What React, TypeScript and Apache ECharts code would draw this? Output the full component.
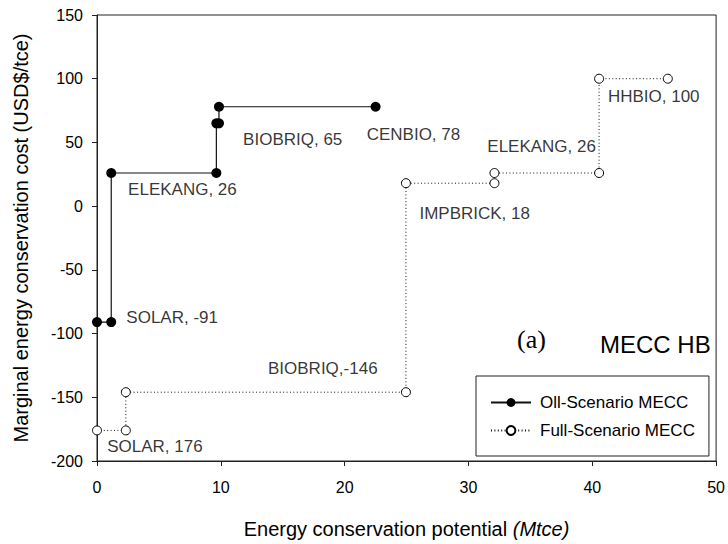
import React, { useEffect, useRef } from "react";
import * as echarts from "echarts";

// ---- data ----
const seriesNames = ["Oll-Scenario MECC", "Full-Scenario MECC"];

// Oll-Scenario MECC step curve (cumulative potential, cost)
const ollX = [0, 1.15, 1.15, 9.64, 9.64, 9.85, 9.85, 22.5];
const ollY = [-91, -91, 26, 26, 65, 65, 78, 78];

// Full-Scenario MECC step curve
const fullX = [0, 2.33, 2.33, 24.95, 24.95, 32.1, 32.1, 40.55, 40.55, 46.1];
const fullY = [-176, -176, -146, -146, 18, 18, 26, 26, 100, 100];

// Annotation texts and their anchor (data units)
const noteTexts = [
  "ELEKANG, 26",
  "BIOBRIQ, 65",
  "CENBIO, 78",
  "ELEKANG, 26",
  "HHBIO, 100",
  "IMPBRICK, 18",
  "SOLAR, -91",
  "BIOBRIQ,-146",
  "SOLAR, 176",
];
const noteX = [2.47, 11.76, 21.74, 31.48, 41.22, 26.0, 2.33, 13.77, 0.78];
const noteY = [12.8, 52.6, 56.5, 47.1, 86.1, -5.9, -87, -127.5, -189];

const xMin = 0, xMax = 50, xStep = 10;
const yMin = -200, yMax = 150, yStep = 50;

const panelTag = "(a)";
const panelTitle = "MECC HB";
const xTitle = "Energy conservation potential ";
const xTitleItalic = "(Mtce)";
const yTitle = "Marginal energy conservation cost (USD$/tce)";

const FONT = "'Liberation Sans', Arial, sans-serif";

export default function App() {
  const ref = useRef<HTMLDivElement>(null);
  useEffect(() => {
    if (!ref.current) return;
    const chart = echarts.init(ref.current, null, { renderer: "svg" });
    const pair = (xs: number[], ys: number[]) => xs.map((x, i) => [x, ys[i]]);
    chart.setOption({
      animation: false,
      backgroundColor: "#fff",
      textStyle: { fontFamily: FONT },
      grid: {
        left: 97,
        right: 10,
        top: 15,
        bottom: 80,
        show: true,
        borderColor: "#222",
        borderWidth: 1,
        backgroundColor: "transparent",
      },
      xAxis: {
        type: "value",
        min: xMin,
        max: xMax,
        interval: xStep,
        name: xTitle + "{i|" + xTitleItalic + "}",
        nameLocation: "middle",
        nameGap: 58,
        nameTextStyle: {
          fontSize: 20,
          color: "#000",
          fontFamily: FONT,
          rich: { i: { fontStyle: "italic", fontSize: 20, color: "#000", fontFamily: FONT } },
        },
        axisLine: { show: true, onZero: false, lineStyle: { color: "#222", width: 1 } },
        axisTick: { show: true, inside: false, length: 5, lineStyle: { color: "#222" } },
        axisLabel: { fontSize: 16, color: "#000", margin: 18, fontFamily: FONT },
        splitLine: { show: false },
      },
      yAxis: {
        type: "value",
        min: yMin,
        max: yMax,
        interval: yStep,
        name: yTitle,
        nameLocation: "middle",
        nameGap: 66,
        nameTextStyle: { fontSize: 20, color: "#000", fontFamily: FONT },
        axisLine: { show: true, onZero: false, lineStyle: { color: "#222", width: 1 } },
        axisTick: { show: true, inside: false, length: 5, lineStyle: { color: "#222" } },
        axisLabel: { fontSize: 16, color: "#000", margin: 14, fontFamily: FONT },
        splitLine: { show: false },
      },
      legend: {
        data: seriesNames,
        orient: "vertical",
        left: 476,
        top: 376,
        padding: [18, 14, 17, 14],
        itemWidth: 40,
        itemHeight: 11,
        itemGap: 11,
        borderColor: "#222",
        borderWidth: 1,
        backgroundColor: "#fff",
        textStyle: { fontSize: 17, color: "#000", fontFamily: FONT, lineHeight: 11, padding: [0, 0, 0, 4] },
      },
      series: [
        {
          name: seriesNames[0],
          type: "line",
          data: pair(ollX, ollY),
          symbol: "circle",
          symbolSize: 10,
          lineStyle: { color: "#111", width: 1.2, type: "solid" },
          itemStyle: { color: "#000", borderColor: "#000", borderWidth: 0 },
          z: 3,
        },
        {
          name: seriesNames[1],
          type: "line",
          data: pair(fullX, fullY),
          symbol: "circle",
          symbolSize: 9,
          lineStyle: { color: "#111", width: 1, type: [1, 2.4] },
          itemStyle: { color: "#fff", borderColor: "#000", borderWidth: 1 },
          z: 3,
        },
        {
          name: "notes",
          type: "scatter",
          silent: true,
          data: noteX.map((x, i) => ({ value: [x, noteY[i]], name: noteTexts[i] })),
          symbolSize: 1,
          itemStyle: { color: "transparent" },
          label: {
            show: true,
            position: "right",
            distance: 0,
            formatter: (p: any) => p.name,
            fontSize: 17,
            color: "#000",
            fontFamily: FONT,
          },
          z: 4,
        },
      ],
      graphic: [
        {
          type: "text",
          x: 517,
          y: 339,
          style: {
            text: panelTag,
            font: "26px 'Liberation Serif', 'Times New Roman', serif",
            fill: "#000",
            textAlign: "left",
            textVerticalAlign: "middle",
          },
        },
        {
          type: "text",
          x: 600,
          y: 344,
          style: {
            text: panelTitle,
            font: "24px 'Liberation Sans', Arial, sans-serif",
            fill: "#000",
            textAlign: "left",
            textVerticalAlign: "middle",
          },
        },
      ],
    });
    return () => chart.dispose();
  }, []);
  return (
    <div
      ref={ref}
      style={{ position: "absolute", left: 0, top: 0, width: 728, height: 544 }}
    />
  );
}
